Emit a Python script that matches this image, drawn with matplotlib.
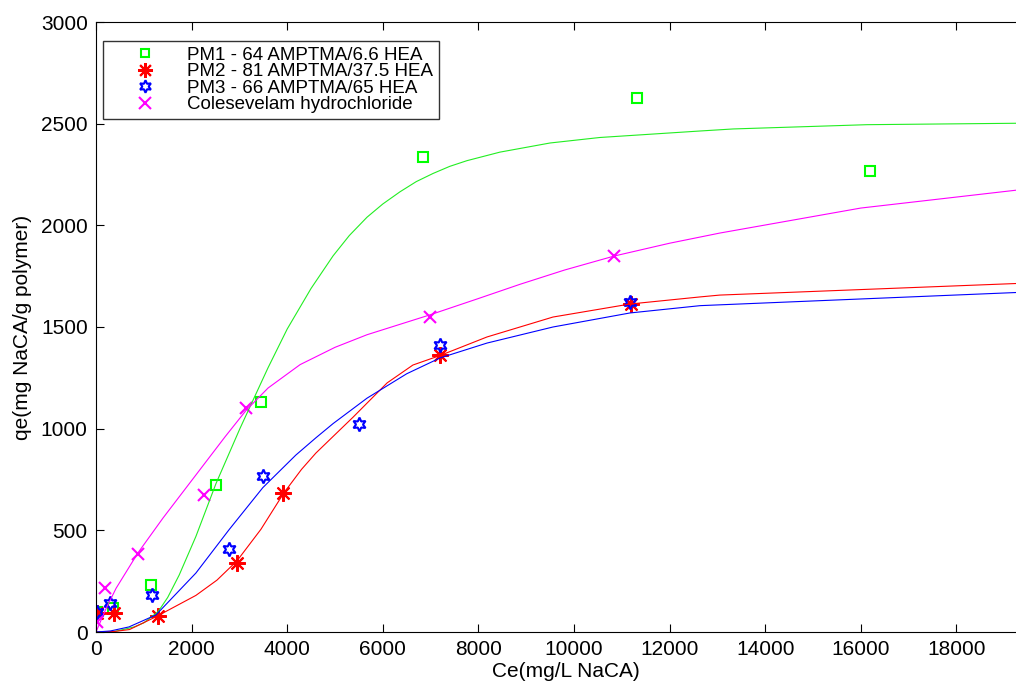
import matplotlib
matplotlib.use('Agg')
import matplotlib.pyplot as plt

plt.rcParams['font.family'] = ['Liberation Sans', 'DejaVu Sans']

# measured points
pm1_x = [20, 350, 1150, 2510, 3450, 6840, 11320, 16190]
pm1_y = [100, 118, 230, 725, 1130, 2335, 2625, 2265]

pm2_x = [20, 375, 1300, 2950, 3910, 7200, 11190]
pm2_y = [95, 95, 80, 340, 685, 1360, 1615]

pm3_x = [20, 290, 1170, 2780, 3490, 5500, 7200, 11170]
pm3_y = [100, 143, 182, 408, 767, 1023, 1410, 1623]

col_x = [20, 190, 880, 2260, 3140, 6990, 10840]
col_y = [50, 216, 384, 674, 1102, 1550, 1850]

# fitted curves
pm1_fit_x = [0, 400, 800, 1000, 1300, 1500, 1740, 2090, 2510, 3010, 3285, 3600,
             4000, 4500, 4960, 5300, 5670, 6000, 6360, 6700, 7050, 7400, 7760,
             8450, 9500, 10540, 12640, 13330, 16130, 19700]
pm1_fit_y = [0, 3, 25, 45, 100, 170, 280, 470, 730, 1000, 1140, 1300,
             1490, 1690, 1850, 1950, 2040, 2105, 2165, 2215, 2255, 2290, 2318,
             2360, 2405, 2432, 2464, 2474, 2495, 2503]

pm2_fit_x = [0, 400, 700, 1255, 2090, 2530, 2950, 3450, 3930, 4300, 4600, 5380,
             6090, 6630, 7200, 8180, 9560, 11170, 12640, 13050, 19700]
pm2_fit_y = [0, 3, 12, 75, 180, 255, 350, 505, 684, 800, 880, 1057,
             1225, 1313, 1360, 1451, 1549, 1613, 1648, 1657, 1718]

pm3_fit_x = [0, 300, 690, 1255, 2090, 2780, 3490, 4180, 4600, 4960, 5670, 6500,
             7200, 8180, 9560, 11170, 12640, 19700]
pm3_fit_y = [0, 5, 25, 84, 290, 502, 710, 870, 955, 1025, 1150, 1270,
             1348, 1421, 1500, 1569, 1605, 1674]

col_fit_x = [0, 210, 420, 880, 1400, 2180, 2700, 3140, 3600, 4270, 5000, 5670,
             6990, 8000, 8870, 9800, 10840, 12000, 13050, 16000, 19700]
col_fit_y = [0, 115, 215, 390, 560, 800, 960, 1090, 1200, 1315, 1400, 1462,
             1560, 1640, 1710, 1780, 1849, 1912, 1962, 2085, 2185]

labels = ['PM1 - 64 AMPTMA/6.6 HEA', 'PM2 - 81 AMPTMA/37.5 HEA',
          'PM3 - 66 AMPTMA/65 HEA', 'Colesevelam hydrochloride']

fig = plt.figure(figsize=(10.16, 6.82), dpi=100)
ax = fig.add_axes([96 / 1016, 50 / 682, (1036 - 96) / 1016, 610 / 682])

ax.plot(pm1_x, pm1_y, linestyle='none', marker='s', markersize=7,
        markerfacecolor='none', markeredgecolor='#00ff00', markeredgewidth=1.5, label=labels[0])
ax.plot(pm2_x, pm2_y, linestyle='none', marker=(8, 2, 0), markersize=12,
        color='red', markeredgewidth=1.5, label=labels[1])
ax.plot(pm3_x, pm3_y, linestyle='none', marker=(6, 1, 0), markersize=10,
        markerfacecolor='none', markeredgecolor='blue', markeredgewidth=1.5, label=labels[2])
ax.plot(col_x, col_y, linestyle='none', marker='x', markersize=9,
        color='magenta', markeredgewidth=1.5, label=labels[3])

ax.plot(pm1_fit_x, pm1_fit_y, color='#22ee22', lw=0.8)
ax.plot(pm2_fit_x, pm2_fit_y, color='red', lw=0.8)
ax.plot(pm3_fit_x, pm3_fit_y, color='blue', lw=0.8)
ax.plot(col_fit_x, col_fit_y, color='magenta', lw=0.8)

ax.set_xlim(0, 19665)
ax.set_ylim(0, 3000)
ax.set_xticks(range(0, 19000, 2000))
ax.set_yticks(range(0, 3001, 500))
ax.tick_params(direction='in', length=6, top=True, right=False, labelsize=15, pad=6)
ax.set_xlabel('Ce(mg/L NaCA)', fontsize=15, labelpad=2)
ax.set_ylabel('qe(mg NaCA/g polymer)', fontsize=15, labelpad=6)

leg = ax.legend(loc='upper left', bbox_to_anchor=(103 / 1016, 1 - 41 / 682),
                bbox_transform=fig.transFigure, borderaxespad=0, fontsize=13.5,
                labelspacing=-0.03, handletextpad=0.3, borderpad=0.3, fancybox=False,
                handlelength=3.9, markerscale=0.9)
leg.get_frame().set_edgecolor('black')
leg.get_frame().set_linewidth(1.0)

fig.savefig('out.png', dpi=100)
